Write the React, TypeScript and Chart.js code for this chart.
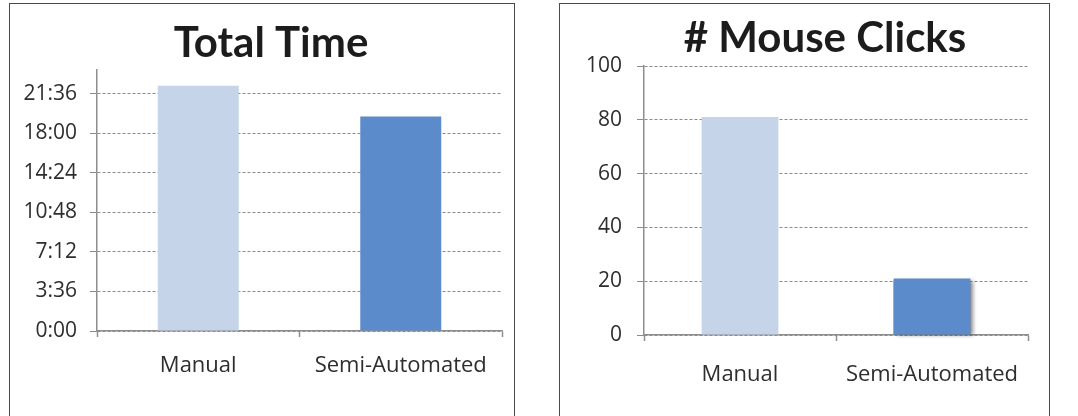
import { useEffect, useRef } from "react";
import { Chart, registerables } from "chart.js";

Chart.register(...registerables);

const categories = ["Manual", "Semi-Automated"];

// Total time per method in seconds; the axis shows m:ss in 3:36 steps
const totalTimeSeconds = [1340, 1172];
const timeTickStep = 216;
const timeAxisMax = 1425.6;

// Number of mouse clicks per method
const mouseClicks = [81, 21];
const clickTickStep = 20;
const clickAxisMax = 100;

const barColors = ["#c6d4e9", "#5c8bcb"];

const TITLE_FONT = "Lato, 'Open Sans', sans-serif";
const LABEL_FONT = "'Open Sans', 'Noto Sans', sans-serif";
const AXIS_GRAY = "#8e8e8e";
const GRID_GRAY = "#8a8a8a";
const TEXT = "#2e2e2e";

function formatMinutes(v: number): string {
  const total = Math.round(v);
  const m = Math.floor(total / 60);
  const s = total % 60;
  return `${m}:${String(s).padStart(2, "0")}`;
}

type PanelSpec = {
  title: string;
  titleX: number;
  titleBaseline: number;
  values: number[];
  max: number;
  step: number;
  format: (v: number) => string;
  canvasWidth: number;
  canvasHeight: number;
  plotTop: number;
  yAxisWidth: number;
  xAxisHeight: number;
  rightPad: number;
  yTickPad: number;
  xTickPad: number;
  shadowBars: number[];
};

// Heading drawn at a fixed spot above the plot area
const headingPlugin = {
  id: "heading",
  afterDraw(chart: any, _args: any, opts: any) {
    const ctx = chart.ctx;
    ctx.save();
    ctx.font = `bold 42px ${TITLE_FONT}`;
    ctx.fillStyle = "#1c1c1c";
    ctx.textAlign = "center";
    ctx.textBaseline = "alphabetic";
    ctx.fillText(opts.text, opts.x, opts.baseline);
    ctx.restore();
  },
};

// Soft drop shadow to the right of selected bars
const barShadowPlugin = {
  id: "barShadow",
  beforeDatasetsDraw(chart: any, _args: any, opts: any) {
    const indices: number[] = opts.indices || [];
    if (!indices.length) return;
    const meta = chart.getDatasetMeta(0);
    const ctx = chart.ctx;
    ctx.save();
    for (const i of indices) {
      const bar = meta.data[i];
      if (!bar) continue;
      const { x, y, width, base } = bar.getProps(["x", "y", "width", "base"], true);
      ctx.shadowColor = "rgba(0,0,0,0.45)";
      ctx.shadowBlur = 4;
      ctx.shadowOffsetX = 3;
      ctx.shadowOffsetY = 0;
      ctx.fillStyle = "rgba(120,120,120,1)";
      ctx.fillRect(x - width / 2, y + 2, width, base - y - 2);
    }
    ctx.restore();
  },
};

function BarPanel({ spec }: { spec: PanelSpec }) {
  const ref = useRef<HTMLCanvasElement | null>(null);

  useEffect(() => {
    if (!ref.current) return;
    const chart = new Chart(ref.current, {
      type: "bar",
      data: {
        labels: categories,
        datasets: [
          {
            data: spec.values,
            backgroundColor: barColors,
            borderWidth: 0,
            barPercentage: 0.4,
            categoryPercentage: 1,
          },
        ],
      },
      plugins: [barShadowPlugin, headingPlugin],
      options: {
        animation: false,
        responsive: false,
        devicePixelRatio: 1,
        layout: { padding: { left: 0, right: spec.rightPad, top: spec.plotTop, bottom: 0 } },
        plugins: {
          legend: { display: false },
          tooltip: { enabled: false },
          title: { display: false },
          heading: { text: spec.title, x: spec.titleX, baseline: spec.titleBaseline },
          barShadow: { indices: spec.shadowBars },
        } as any,
        scales: {
          x: {
            grid: {
              offset: true,
              drawOnChartArea: false,
              drawTicks: true,
              tickLength: 6,
              tickColor: AXIS_GRAY,
              tickWidth: 1.5,
            },
            border: { color: AXIS_GRAY, width: 1.5 },
            ticks: {
              color: TEXT,
              font: { family: LABEL_FONT, size: 22 },
              padding: spec.xTickPad,
              maxRotation: 0,
            },
            afterFit: (scale: any) => {
              scale.height = spec.xAxisHeight;
            },
          },
          y: {
            min: 0,
            max: spec.max,
            grid: {
              color: GRID_GRAY,
              lineWidth: 1,
              drawTicks: true,
              tickLength: 7,
              tickColor: GRID_GRAY,
            },
            border: { color: AXIS_GRAY, width: 1.5, dash: [3, 2] },
            ticks: {
              stepSize: spec.step,
              color: TEXT,
              font: { family: LABEL_FONT, size: 21 },
              padding: spec.yTickPad,
              callback: (v: any) => spec.format(Number(v)),
            },
            afterBuildTicks: (scale: any) => {
              scale.ticks = scale.ticks.filter(
                (t: any) => Math.abs(Math.round(t.value / spec.step) * spec.step - t.value) < 1e-6
              );
            },
            afterFit: (scale: any) => {
              scale.width = spec.yAxisWidth;
            },
          },
        },
      },
    });
    return () => chart.destroy();
  }, [spec]);

  return (
    <canvas
      ref={ref}
      width={spec.canvasWidth}
      height={spec.canvasHeight}
      style={{ display: "block", width: spec.canvasWidth, height: spec.canvasHeight }}
    />
  );
}

const timeSpec: PanelSpec = {
  title: "Total Time",
  titleX: 261,
  titleBaseline: 53,
  values: totalTimeSeconds,
  max: timeAxisMax,
  step: timeTickStep,
  format: formatMinutes,
  canvasWidth: 504,
  canvasHeight: 412,
  plotTop: 66,
  yAxisWidth: 87,
  xAxisHeight: 85,
  rightPad: 12,
  yTickPad: 13,
  xTickPad: 16,
  shadowBars: [],
};

const clickSpec: PanelSpec = {
  title: "# Mouse Clicks",
  titleX: 265,
  titleBaseline: 48,
  values: mouseClicks,
  max: clickAxisMax,
  step: clickTickStep,
  format: (v: number) => String(v),
  canvasWidth: 489,
  canvasHeight: 412,
  plotTop: 62,
  yAxisWidth: 84,
  xAxisHeight: 81,
  rightPad: 21,
  yTickPad: 15,
  xTickPad: 21,
  shadowBars: [1],
};

const panelStyle = (left: number, width: number): React.CSSProperties => ({
  position: "absolute",
  left,
  top: 3,
  width,
  height: 430,
  border: "1px solid #4a4a4a",
  boxSizing: "border-box",
  background: "#ffffff",
  overflow: "hidden",
});

export default function App() {
  return (
    <div
      style={{
        position: "fixed",
        left: 0,
        top: 0,
        width: 1078,
        height: 416,
        background: "#ffffff",
        overflow: "hidden",
      }}
    >
      <div style={panelStyle(9, 506)}>
        <BarPanel spec={timeSpec} />
      </div>
      <div style={panelStyle(559, 491)}>
        <BarPanel spec={clickSpec} />
      </div>
    </div>
  );
}
